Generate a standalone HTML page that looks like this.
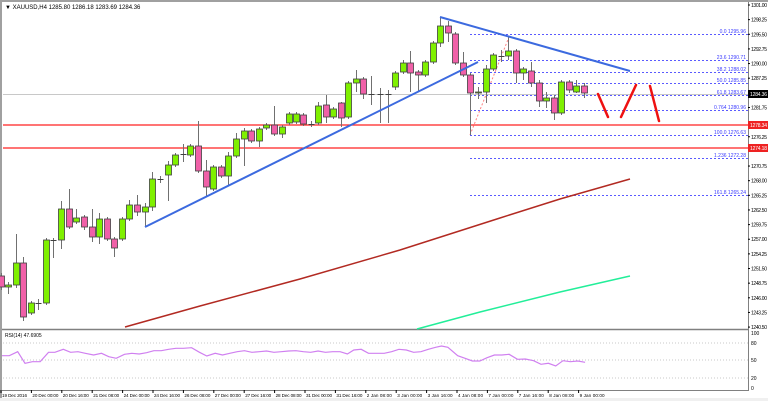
<!DOCTYPE html>
<html><head><meta charset="utf-8"><style>
html,body{margin:0;padding:0;background:#fff;}
svg{display:block;font-family:"Liberation Sans",sans-serif;}
</style></head><body>
<svg id="s" width="768" height="401" viewBox="0 0 768 401" xmlns="http://www.w3.org/2000/svg">
<rect x="0" y="0" width="768" height="401" fill="#fff"/>
<rect x="0" y="0" width="768" height="2" fill="#a0a0a0"/>
<rect x="0" y="0" width="2" height="401" fill="#a0a0a0"/>
<rect x="0" y="398" width="768" height="3" fill="#f0f0f0"/>
<line x1="2" y1="329.5" x2="748" y2="329.5" stroke="#808080" stroke-width="1.5"/>
<line x1="2" y1="390.5" x2="748" y2="390.5" stroke="#808080" stroke-width="1"/>
<line x1="748.5" y1="2" x2="748.5" y2="391" stroke="#808080" stroke-width="1"/>
<text x="5" y="9" font-size="6" fill="#000">▼ XAUUSD,H4  1285.80 1286.18 1283.69 1284.36</text>
<g id="fib" stroke="#5a5aff" stroke-width="1" stroke-dasharray="2,2"></g>
<g id="fibt" font-size="5" fill="#3c3cff" text-anchor="end"></g>
<line x1="3" y1="94.5" x2="748" y2="94.5" stroke="#c8c8c8" stroke-width="1"/>
<line x1="3" y1="125" x2="748" y2="125" stroke="#ff2020" stroke-width="1.3"/>
<line x1="3" y1="148" x2="748" y2="148" stroke="#ff2020" stroke-width="1.3"/>
<polyline points="125,327 200,306 300,279 400,250 500,218 560,199 630,179" fill="none" stroke="#b22a22" stroke-width="1.5"/>
<polyline points="417,329 480,312 560,292 630,276" fill="none" stroke="#22ee99" stroke-width="1.5"/>
<line x1="470" y1="135" x2="509" y2="37" stroke="#ff8080" stroke-width="1" stroke-dasharray="2,2"/>
<g id="c"></g>
<line x1="145" y1="227" x2="478" y2="62" stroke="#3c6adf" stroke-width="2"/>
<line x1="440" y1="17" x2="630" y2="71" stroke="#3c6adf" stroke-width="2"/>
<g stroke="#ee1111" stroke-width="2.5" stroke-linecap="round">
<line x1="598" y1="94" x2="608" y2="117"/>
<line x1="621" y1="117" x2="636" y2="85"/>
<line x1="650" y1="86" x2="659" y2="121"/>
</g>
<g id="ax" font-size="5" fill="#000"></g>
<rect x="748" y="90" width="20" height="8" fill="#000"/><text x="750" y="96" font-size="5" fill="#fff" textLength="17">1284.36</text>
<rect x="748" y="121" width="20" height="8" fill="#ee2222"/><text x="750" y="127" font-size="5" fill="#fff" textLength="17">1278.34</text>
<rect x="748" y="144" width="20" height="8" fill="#ee2222"/><text x="750" y="150" font-size="5" fill="#fff" textLength="17">1274.18</text>
<g stroke="#c8c8c8" stroke-dasharray="1,2"><line x1="3" y1="343" x2="748" y2="343"/><line x1="3" y1="360" x2="748" y2="360"/><line x1="3" y1="378" x2="748" y2="378"/></g>
<text x="5" y="337" font-size="5" fill="#000">RSI(14) 47.6905</text>
<g font-size="5" fill="#000"><text x="751" y="335">100</text><text x="751" y="345">80</text><text x="751" y="362">50</text><text x="751" y="380">20</text><text x="751" y="390">0</text></g>
<polyline id="rsi" fill="none" stroke="#d080f0" stroke-width="1.2"/>
<g id="tm" font-size="4.6" fill="#000"></g>
</svg>
<script>
var NS="http://www.w3.org/2000/svg";
function el(p,t,a,txt){var e=document.createElementNS(NS,t);for(var k in a)e.setAttribute(k,a[k]);if(txt)e.textContent=txt;document.getElementById(p).appendChild(e);return e;}
var fibs=[[34,"0.0 1295.96"],[60,"23.6 1290.71"],[72,"38.2 1288.02"],[83,"50.0 1285.85"],[95,"61.8 1283.67"],[110,"0.764 1280.96"],[135,"100.0 1276.63"],[158,"1.236 1272.28"],[195,"161.8 1265.24"]];
fibs.forEach(function(f){el("fib","line",{x1:470,y1:f[0]+.5,x2:748,y2:f[0]+.5});el("fibt","text",{x:746,y:f[0]-1},f[1]);});
for(var i=0;i<23;i++){var p=(1301-2.75*i).toFixed(2);var y=5+i*14.64;if(Math.abs(y-94)<5||Math.abs(y-125)<5||Math.abs(y-148)<5)continue;el("ax","text",{x:751,y:y+2,textLength:16},p);el("ax","line",{x1:748,y1:y,x2:750,y2:y,stroke:"#000"});}
var C=[[1,276,287,273,290,"p"],[8,285,287,282,294,"g"],[16,263,285,234,288,"g"],[23,263,317,257,321,"p"],[31,303,313,301,315,"g"],[38,303,304,299,310,"d"],[46,240,303,238,305,"g"],[53,240,241,238,258,"d"],[61,209,240,201,249,"g"],[69,209,227,189,229,"p"],[76,218,222,209,224,"g"],[84,217,227,215,230,"p"],[92,227,237,209,242,"p"],[99,219,237,213,244,"g"],[107,219,239,217,241,"p"],[114,239,248,237,257,"p"],[122,219,239,217,241,"g"],[129,205,219,200,221,"g"],[137,205,212,195,216,"p"],[145,207,212,203,227,"g"],[152,179,207,172,211,"g"],[160,179,180,176,183,"d"],[168,165,175,161,201,"g"],[175,155,165,153,167,"g"],[183,154,155,144,162,"d"],[190,146,155,144,157,"g"],[198,146,171,121,173,"p"],[206,171,187,160,197,"p"],[213,167,189,165,191,"g"],[221,167,176,165,178,"p"],[228,156,176,152,186,"g"],[236,139,156,133,158,"g"],[244,131,139,128,166,"g"],[251,131,141,129,143,"p"],[259,129,141,127,147,"g"],[266,125,128,123,130,"g"],[274,125,134,106,136,"p"],[282,127,134,125,138,"g"],[289,114,123,112,125,"g"],[296,114,122,112,124,"g"],[303,115,124,113,126,"p"],[311,124,125,121,127,"d"],[318,106,123,102,125,"g"],[326,105,117,95,123,"p"],[333,109,117,107,119,"g"],[341,103,118,102,127,"p"],[348,83,117,81,119,"g"],[356,79,83,70,92,"g"],[363,79,94,77,99,"p"],[371,94,95,76,105,"d"],[380,94,95,88,123,"d"],[388,94,95,90,123,"d"],[395,73,87,71,90,"g"],[403,63,72,60,74,"g"],[410,63,73,51,92,"p"],[418,72,75,70,92,"p"],[425,62,75,60,77,"g"],[433,43,62,41,64,"g"],[440,26,43,18,47,"g"],[448,26,33,21,42,"p"],[455,34,63,32,65,"p"],[463,63,75,52,77,"p"],[470,75,93,73,135,"p"],[478,92,93,87,99,"g"],[486,69,92,65,103,"g"],[493,55,69,53,71,"g"],[501,56,57,50,62,"d"],[508,51,56,37,60,"g"],[516,51,73,49,83,"p"],[523,69,73,67,80,"g"],[531,71,83,62,87,"p"],[539,83,101,80,107,"p"],[546,98,101,92,108,"g"],[554,98,113,95,120,"p"],[561,82,113,80,115,"g"],[569,82,90,80,93,"p"],[576,86,92,80,93,"g"],[584,86,93,83,98,"p"]];
C.forEach(function(c){
 el("c","line",{x1:c[0]+.5,y1:c[3],x2:c[0]+.5,y2:c[4],stroke:"#707070","stroke-width":1});
 if(c[5]=="d"){el("c","line",{x1:c[0]-2.5,y1:c[1]+.5,x2:c[0]+3.5,y2:c[1]+.5,stroke:"#404040","stroke-width":1});}
 else el("c","rect",{x:c[0]-2.5,y:c[1],width:6,height:Math.max(1,c[2]-c[1]),fill:c[5]=="g"?"#7ff000":"#f060a8",stroke:"#404040","stroke-width":0.8});
});
var R=[[0,107],[15,107],[32,95],[47,130],[62,125],[78,125],[95,97],[108,97],[125,88],[140,97],[155,95],[170,100],[187,105],[203,100],[218,110],[233,115],[250,103],[265,100],[280,102],[295,98],[310,92],[325,92],[340,88],[355,85],[370,85],[387,83],[403,97],[418,108],[435,100],[450,105],[465,100],[480,95],[495,92],[510,97],[525,95],[540,93],[555,97],[570,95],[585,93],[600,92],[615,95],[630,97],[645,93],[660,97],[675,95],[690,95],[705,102],[718,90],[733,88],[748,100],[763,100],[780,100],[795,95],[810,88],[825,90],[840,97],[855,95],[870,88],[885,82],[897,78],[910,82],[930,107],[945,115],[960,123],[975,123],[990,113],[1005,105],[1020,105],[1035,103],[1052,118],[1068,117],[1085,122],[1100,133],[1115,130],[1130,138],[1145,122],[1160,125],[1175,123],[1190,127]];
document.getElementById("rsi").setAttribute("points",R.map(function(r){return (r[0]*0.49+2).toFixed(1)+","+(320+r[1]/3).toFixed(1);}).join(" "));
var T=["19 Dec 2016","20 Dec 00:00","20 Dec 16:00","21 Dec 08:00","24 Dec 00:00","24 Dec 16:00","26 Dec 08:00","27 Dec 00:00","27 Dec 16:00","28 Dec 08:00","31 Dec 00:00","31 Dec 16:00","2 Jan 08:00","3 Jan 00:00","3 Jan 16:00","4 Jan 08:00","7 Jan 00:00","7 Jan 16:00","8 Jan 08:00","9 Jan 00:00"];
T.forEach(function(t,i){var x=1+i*30.4;el("tm","text",{x:x+1,y:397,textLength:t.length>11?26:(t.length>10?25:23)},t);el("tm","line",{x1:x,y1:390,x2:x,y2:393,stroke:"#000"});});
</script>
</body></html>
